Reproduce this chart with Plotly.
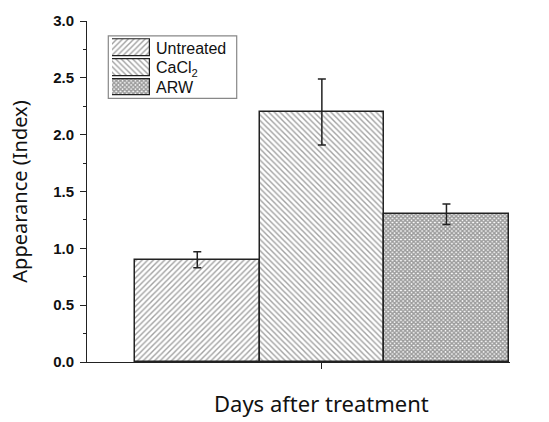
import plotly.graph_objects as go

treatments = ["Untreated", "CaCl<sub>2</sub>", "ARW"]
positions = [1, 2, 3]
appearance = [0.9, 2.2, 1.3]
errors = [0.07, 0.29, 0.09]
patterns = ["/", "\\", "x"]
pattern_sizes = [4, 4, 3]
pattern_solidity = [0.35, 0.35, 0.75]
pattern_colors = ["#444444", "#444444", "#3a3a3a"]

PLOT_L, PLOT_R, PLOT_T, PLOT_B = 87, 39, 17, 60
W, H = 549, 422
pw, ph = W - PLOT_L - PLOT_R, H - PLOT_T - PLOT_B


def px_x(px):
    return (px - PLOT_L) / pw


def px_y(py):
    return 1 - (py - PLOT_T) / ph


fig = go.Figure()
for name, pos, val, err, shp, sz, sol, fg in zip(treatments, positions, appearance, errors,
                                                   patterns, pattern_sizes, pattern_solidity,
                                                   pattern_colors):
    fig.add_trace(go.Bar(
        name=name,
        x=[pos],
        y=[val],
        width=1,
        showlegend=False,
        marker=dict(
            color="white",
            line=dict(color="#222222", width=1.5),
            pattern=dict(shape=shp, size=sz, solidity=sol,
                         fgcolor=fg, bgcolor="white", fillmode="overlay"),
        ),
        error_y=dict(type="data", array=[err], visible=True,
                     color="#222222", thickness=1.5, width=4),
    ))

# Legend key: patterned swatches drawn on a small inset axis, labels as its tick text
fig.add_trace(go.Bar(
    orientation="h",
    x=[1, 1, 1],
    y=[0, 1, 2],
    width=0.86,
    xaxis="x2",
    yaxis="y2",
    showlegend=False,
    hoverinfo="skip",
    marker=dict(
        color="white",
        line=dict(color="#222222", width=1.2),
        pattern=dict(shape=patterns, size=pattern_sizes, solidity=pattern_solidity,
                     fgcolor=pattern_colors, bgcolor="white", fillmode="overlay"),
    ),
))

fig.add_shape(type="rect", xref="paper", yref="paper",
              x0=px_x(108.3), x1=px_x(236.7), y0=px_y(95.3), y1=px_y(32),
              line=dict(color="#888888", width=1.2), fillcolor="rgba(0,0,0,0)", layer="below")

fig.add_annotation(text="Days after treatment", xref="x", yref="paper",
                   x=2, y=px_y(403), xanchor="center", yanchor="middle", showarrow=False,
                   font=dict(family="Noto Sans, Open Sans, sans-serif", size=22, color="#111111"))

fig.update_layout(
    width=W,
    height=H,
    margin=dict(l=PLOT_L, r=PLOT_R, t=PLOT_T, b=PLOT_B),
    paper_bgcolor="white",
    plot_bgcolor="white",
    barmode="overlay",
    bargap=0,
    showlegend=False,
    xaxis=dict(
        range=[0.115, 3.51],
        tickvals=[2],
        showticklabels=False,
        ticks="outside",
        ticklen=6,
        tickwidth=1,
        tickcolor="#222222",
        showline=True,
        linecolor="#222222",
        linewidth=1,
        showgrid=False,
        zeroline=False,
    ),
    yaxis=dict(
        range=[0, 3],
        dtick=0.5,
        tickformat=".1f",
        ticks="outside",
        ticklen=6,
        tickwidth=1,
        tickcolor="#222222",
        minor=dict(dtick=0.25, ticks="outside", ticklen=3, tickcolor="#222222"),
        showline=True,
        linecolor="#222222",
        linewidth=1,
        showgrid=False,
        zeroline=False,
        ticklabelstandoff=3,
        tickfont=dict(family="Liberation Sans, Arial, sans-serif", size=15, color="#111111", weight="bold"),
        title=dict(text="Appearance (Index)",
                   font=dict(family="Noto Sans, Open Sans, sans-serif", size=20, color="#111111"),
                   standoff=20),
    ),
    xaxis2=dict(
        domain=[px_x(112), px_x(150)],
        anchor="y2",
        range=[0, 1],
        visible=False,
        fixedrange=True,
    ),
    yaxis2=dict(
        domain=[px_y(94), px_y(34.5)],
        anchor="x2",
        range=[2.5, -0.5],
        side="right",
        tickvals=[0, 1, 2],
        ticktext=treatments,
        ticks="",
        showline=False,
        showgrid=False,
        zeroline=False,
        ticklabelstandoff=5,
        tickfont=dict(family="Liberation Sans, Arial, sans-serif", size=16, color="#111111"),
        fixedrange=True,
    ),
)

fig.write_html("out.html")
